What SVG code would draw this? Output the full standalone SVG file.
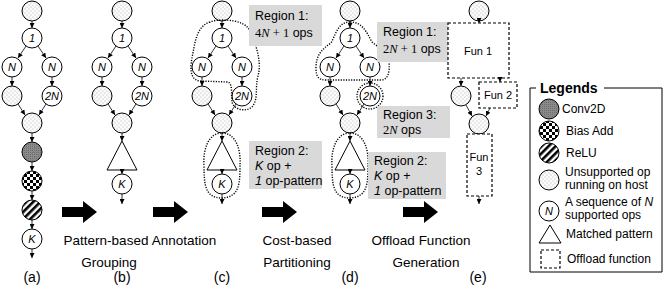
<svg xmlns="http://www.w3.org/2000/svg" width="664" height="293" viewBox="0 0 664 293">
<defs>
<pattern id="dots" width="4" height="4" patternUnits="userSpaceOnUse"><rect width="4" height="4" fill="#fbfbfb"/><circle cx="1" cy="1" r="0.5" fill="#a0a0a0"/><circle cx="3" cy="3" r="0.5" fill="#a0a0a0"/></pattern>
<pattern id="conv" width="2" height="2" patternUnits="userSpaceOnUse"><rect width="2" height="2" fill="#8a8a8a"/><rect width="1" height="1" fill="#6e6e6e"/></pattern>
<pattern id="check" width="6" height="6" patternUnits="userSpaceOnUse"><rect width="6" height="6" fill="#fff"/><rect width="3" height="3" fill="#000"/><rect x="3" y="3" width="3" height="3" fill="#000"/></pattern>
<pattern id="stripes" width="5" height="5" patternUnits="userSpaceOnUse" patternTransform="rotate(45)"><rect width="5" height="5" fill="#fff"/><rect width="2.6" height="5" fill="#000"/></pattern>
<marker id="ah" viewBox="0 0 6 6" refX="6" refY="3" markerWidth="5" markerHeight="5" markerUnits="userSpaceOnUse" orient="auto"><path d="M0,0 L6,3 L0,6 Z" fill="#000"/></marker>
</defs>
<style>
text{font-family:"Liberation Sans",Arial,sans-serif;fill:#000}
.n{fill:#fff;stroke:#000;stroke-width:1}
.u{fill:url(#dots);stroke:#000;stroke-width:1}
.cv{fill:url(#conv);stroke:#000;stroke-width:1}
.ba{fill:url(#check);stroke:#000;stroke-width:1}
.re{fill:url(#stripes);stroke:#000;stroke-width:1}
.tri{fill:#fff;stroke:#000;stroke-width:1}
.lb{font-size:11px;font-style:italic;text-anchor:middle}
.e{stroke:#000;stroke-width:0.8;fill:none;marker-end:url(#ah)}
.loop{fill:none;stroke:#000;stroke-width:1.4;stroke-dasharray:1.2 1.4}
.rbox{fill:#d9d9d9}
.rt{font-size:12.5px}
.fun{fill:#fff;stroke:#000;stroke-width:1.2;stroke-dasharray:3 2}
.ft{font-size:11px;text-anchor:middle}
.big{font-size:13.5px;text-anchor:middle}
.cap{font-size:14px;text-anchor:middle}
.lg{font-size:12px}
.barrow{fill:#000}
</style>

<!-- column (a) -->
<g id="a-top"><circle class="u" cx="32" cy="11" r="10"/></g>
<g id="a-one"><circle class="n" cx="32" cy="38" r="10"/><text class="lb" x="32" y="42">1</text></g>
<g id="a-nl"><circle class="n" cx="12" cy="67" r="10"/><text class="lb" x="12" y="71">N</text></g>
<g id="a-nr"><circle class="n" cx="52" cy="67" r="10"/><text class="lb" x="52" y="71">N</text></g>
<g id="a-ul"><circle class="u" cx="12" cy="96" r="10"/></g>
<g id="a-2n"><circle class="n" cx="52" cy="96" r="10"/><text class="lb" x="52" y="100">2N</text></g>
<g id="a-merge"><circle class="u" cx="32" cy="123" r="10"/></g>
<g id="a-conv"><circle class="cv" cx="32" cy="152" r="10"/></g>
<g id="a-bias"><circle class="ba" cx="32" cy="181" r="10"/></g>
<g id="a-relu"><circle class="re" cx="32" cy="210" r="10"/></g>
<g id="a-k"><circle class="n" cx="32" cy="239" r="10"/><text class="lb" x="32" y="243">K</text></g>

<!-- column (b) -->
<g id="b-top"><circle class="u" cx="122" cy="11" r="10"/></g>
<g id="b-one"><circle class="n" cx="122" cy="38" r="10"/><text class="lb" x="122" y="42">1</text></g>
<g id="b-nl"><circle class="n" cx="102" cy="67" r="10"/><text class="lb" x="102" y="71">N</text></g>
<g id="b-nr"><circle class="n" cx="142" cy="67" r="10"/><text class="lb" x="142" y="71">N</text></g>
<g id="b-ul"><circle class="u" cx="102" cy="96" r="10"/></g>
<g id="b-2n"><circle class="n" cx="142" cy="96" r="10"/><text class="lb" x="142" y="100">2N</text></g>
<g id="b-merge"><circle class="u" cx="122" cy="123" r="10"/></g>
<g id="b-tri"><path class="tri" d="M122,141 L137,170 L107,170 Z"/></g>
<g id="b-k"><circle class="n" cx="122" cy="184" r="10"/><text class="lb" x="122" y="188">K</text></g>

<!-- column (c) -->
<g id="c-top"><circle class="u" cx="222" cy="11" r="10"/></g>
<g id="c-one"><circle class="n" cx="222" cy="38" r="10"/><text class="lb" x="222" y="42">1</text></g>
<g id="c-nl"><circle class="n" cx="202" cy="67" r="10"/><text class="lb" x="202" y="71">N</text></g>
<g id="c-nr"><circle class="n" cx="242" cy="67" r="10"/><text class="lb" x="242" y="71">N</text></g>
<g id="c-ul"><circle class="u" cx="202" cy="96" r="10"/></g>
<g id="c-2n"><circle class="n" cx="242" cy="96" r="10"/><text class="lb" x="242" y="100">2N</text></g>
<g id="c-merge"><circle class="u" cx="222" cy="123" r="10"/></g>
<g id="c-tri"><path class="tri" d="M222,141 L237,170 L207,170 Z"/></g>
<g id="c-k"><circle class="n" cx="222" cy="184" r="10"/><text class="lb" x="222" y="188">K</text></g>
<g id="c-region1"><path class="loop" d="M210,22 C197,26 195,42 193,53 C190,66 189,80 200,81 L228,82 C233,84 231,95 232,102 C234,111 250,113 254,104 C258,96 255,88 258,76 C262,62 256,46 252,35 C249,25 240,20 222,20 C216,20 213,21 210,22 Z"/><rect class="rbox" x="249" y="5" width="73" height="41"/><text class="rt" x="255" y="20">Region 1:</text><text class="rt" x="255" y="37"><tspan font-family="Liberation Serif">4<tspan font-style="italic">N</tspan> + 1</tspan> ops</text></g>
<g id="c-region2"><path class="loop" d="M222,133 C236,133 241,150 240,165 C240,185 239,197 222,198 C205,198 204,185 204,165 C203,150 208,133 222,133 Z"/><rect class="rbox" x="249" y="141" width="73" height="48"/><text class="rt" x="255" y="155">Region 2:</text><text class="rt" x="255" y="170"><tspan font-style="italic">K</tspan> op +</text><text class="rt" x="255" y="185"><tspan font-style="italic">1</tspan> op-pattern</text></g>

<!-- column (d) -->
<g id="d-top"><circle class="u" cx="350" cy="11" r="10"/></g>
<g id="d-one"><circle class="n" cx="350" cy="38" r="10"/><text class="lb" x="350" y="42">1</text></g>
<g id="d-nl"><circle class="n" cx="330" cy="67" r="10"/><text class="lb" x="330" y="71">N</text></g>
<g id="d-nr"><circle class="n" cx="370" cy="67" r="10"/><text class="lb" x="370" y="71">N</text></g>
<g id="d-ul"><circle class="u" cx="330" cy="96" r="10"/></g>
<g id="d-2n"><circle class="n" cx="370" cy="96" r="10"/><text class="lb" x="370" y="100">2N</text></g>
<g id="d-merge"><circle class="u" cx="350" cy="123" r="10"/></g>
<g id="d-tri"><path class="tri" d="M350,141 L365,170 L335,170 Z"/></g>
<g id="d-k"><circle class="n" cx="350" cy="184" r="10"/><text class="lb" x="350" y="188">K</text></g>
<g id="d-region1"><path class="loop" d="M350,22 C338,22 336,34 331,43 C322,49 316,55 316,68 C316,76 318,80 326,80 L381,80 C388,80 390,72 389,62 C388,52 379,48 372,42 C366,31 362,22 350,22 Z"/><rect class="rbox" x="377" y="22" width="73" height="40"/><text class="rt" x="383" y="36">Region 1:</text><text class="rt" x="383" y="53"><tspan font-family="Liberation Serif">2<tspan font-style="italic">N</tspan> + 1</tspan> ops</text></g>
<g id="d-region3"><circle class="loop" cx="370" cy="96" r="13"/><rect class="rbox" x="377" y="106" width="73" height="32"/><text class="rt" x="383" y="119">Region 3:</text><text class="rt" x="383" y="134"><tspan font-family="Liberation Serif">2<tspan font-style="italic">N</tspan></tspan> ops</text></g>
<g id="d-region2"><path class="loop" d="M350,133 C364,133 369,150 368,165 C368,185 367,197 350,198 C333,198 332,185 332,165 C331,150 336,133 350,133 Z"/><rect class="rbox" x="368" y="152" width="78" height="47"/><text class="rt" x="374" y="165">Region 2:</text><text class="rt" x="374" y="180"><tspan font-style="italic">K</tspan> op +</text><text class="rt" x="374" y="195"><tspan font-style="italic">1</tspan> op-pattern</text></g>

<!-- column (e) -->
<g id="e-top"><circle class="u" cx="479" cy="11" r="10"/></g>
<g id="e-fun1"><rect class="fun" x="448" y="23" width="61" height="55"/><text class="ft" x="478" y="55">Fun 1</text></g>
<g id="e-ul"><circle class="u" cx="461" cy="96" r="10"/></g>
<g id="e-fun2"><rect class="fun" x="479" y="82" width="38" height="26"/><text class="ft" x="498" y="99">Fun 2</text></g>
<g id="e-merge"><circle class="u" cx="479" cy="124" r="10"/></g>
<g id="e-fun3"><rect class="fun" x="467" y="134" width="25" height="62"/><text class="ft" x="479" y="161">Fun</text><text class="ft" x="479" y="175">3</text></g>

<!-- connectors -->
<g id="connectors">
<path class="e" d="M32,21 V28"/><path class="e" d="M26,46 L18,58"/><path class="e" d="M38,46 L46,58"/>
<path class="e" d="M12,77 V86"/><path class="e" d="M52,77 V86"/>
<path class="e" d="M18,104 L25,115"/><path class="e" d="M46,104 L39,115"/>
<path class="e" d="M32,133 V142"/><path class="e" d="M32,162 V171"/><path class="e" d="M32,191 V200"/><path class="e" d="M32,220 V229"/><path class="e" d="M32,249 V258"/>

<path class="e" d="M122,21 V28"/><path class="e" d="M116,46 L108,58"/><path class="e" d="M128,46 L136,58"/>
<path class="e" d="M102,77 V86"/><path class="e" d="M142,77 V86"/>
<path class="e" d="M108,104 L115,115"/><path class="e" d="M136,104 L129,115"/>
<path class="e" d="M122,133 V141"/><path class="e" d="M122,170 V174"/><path class="e" d="M122,194 V204"/>

<path class="e" d="M222,21 V28"/><path class="e" d="M216,46 L208,58"/><path class="e" d="M228,46 L236,58"/>
<path class="e" d="M202,77 V86"/><path class="e" d="M242,77 V86"/>
<path class="e" d="M208,104 L215,115"/><path class="e" d="M236,104 L229,115"/>
<path class="e" d="M222,133 V141"/><path class="e" d="M222,170 V174"/><path class="e" d="M222,194 V204"/>

<path class="e" d="M350,21 V28"/><path class="e" d="M344,46 L336,58"/><path class="e" d="M356,46 L364,58"/>
<path class="e" d="M330,77 V86"/><path class="e" d="M370,77 V86"/>
<path class="e" d="M336,104 L343,115"/><path class="e" d="M364,104 L357,115"/>
<path class="e" d="M350,133 V141"/><path class="e" d="M350,170 V174"/><path class="e" d="M350,194 V204"/>

<path class="e" d="M479,21 V23"/><path class="e" d="M461,78 V86"/><path class="e" d="M500,78 V82"/>
<path class="e" d="M466,105 L472,116"/><path class="e" d="M490,108 L486,116"/>
<path class="e" d="M479,196 V204"/>

<path class="barrow" d="M62,207 H83 V201 L97,212 L83,223 V217 H62 Z"/>
<path class="barrow" d="M153,207 H174 V201 L188,212 L174,223 V217 H153 Z"/>
<path class="barrow" d="M262,207 H283 V201 L297,212 L283,223 V217 H262 Z"/>
<path class="barrow" d="M403,207 H424 V201 L438,212 L424,223 V217 H403 Z"/>
</g>

<g id="steps">
<text class="big" x="106" y="245">Pattern-based</text><text class="big" x="109" y="267">Grouping</text>
<text class="big" x="184" y="245">Annotation</text>
<text class="big" x="297" y="245">Cost-based</text><text class="big" x="297" y="267">Partitioning</text>
<text class="big" x="421" y="245">Offload Function</text><text class="big" x="426" y="267">Generation</text>
<text class="cap" x="32" y="282">(a)</text><text class="cap" x="122" y="282">(b)</text><text class="cap" x="222" y="282">(c)</text><text class="cap" x="350" y="282">(d)</text><text class="cap" x="478" y="282">(e)</text>
</g>

<g id="legend">
<path d="M536,88 H530 V272 H662 V88 H604" fill="none" stroke="#000" stroke-width="1"/>
<text x="540" y="93" font-size="14px" font-weight="bold">Legends</text>
<circle class="cv" cx="549" cy="109" r="10"/><text class="lg" x="562" y="113">Conv2D</text>
<circle class="ba" cx="549" cy="131" r="10"/><text class="lg" x="566" y="135">Bias Add</text>
<circle class="re" cx="549" cy="153" r="10"/><text class="lg" x="566" y="157">ReLU</text>
<circle class="u" cx="549" cy="180" r="10"/><text class="lg" x="565" y="176">Unsupported op</text><text class="lg" x="565" y="189">running on host</text>
<circle class="n" cx="549" cy="211" r="10"/><text class="lb" x="549" y="215">N</text><text class="lg" x="565" y="206">A sequence of <tspan font-style="italic">N</tspan></text><text class="lg" x="565" y="219">supported ops</text>
<path class="tri" d="M550,225 L561,243 L539,243 Z"/><text class="lg" x="566" y="238">Matched pattern</text>
<rect class="fun" x="541" y="250" width="19" height="18"/><text class="lg" x="567" y="263">Offload function</text>
</g>
</svg>
